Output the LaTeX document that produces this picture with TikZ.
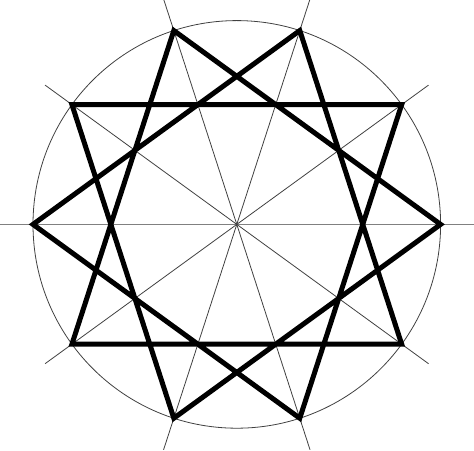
\documentclass[tikz,border=0pt]{standalone}
\usetikzlibrary{calc}
\begin{document}
\begin{tikzpicture}[x=1pt,y=1pt,
  thinline/.style={draw=black!75,line width=0.8pt},
  axisline/.style={draw=black!50,line width=1.4pt},
  starline/.style={draw=black,line width=5pt,line join=miter,miter limit=20}]
\useasboundingbox (0,0) rectangle (474,450);
\coordinate (O) at (236.8,225.6);
\def\R{203.8}
\draw[thinline] (O) circle (\R);
\coordinate (h1) at ($(O)+(0:237)$);
\coordinate (h2) at ($(O)+(180:237)$);
\draw[axisline] (h1) -- (h2);
\foreach \a in {36,72,108,144}{
  \draw[thinline] ($(O)+(\a:237)$) -- ($(O)+(\a+180:237)$);
}
\foreach \i in {0,...,9}{
  \coordinate (v\i) at ($(O)+(\i*36:\R)$);
}
\draw[starline] (v0) -- (v3) -- (v6) -- (v9) -- (v2) -- (v5) -- (v8) -- (v1) -- (v4) -- (v7) -- cycle;
\end{tikzpicture}
\end{document}
